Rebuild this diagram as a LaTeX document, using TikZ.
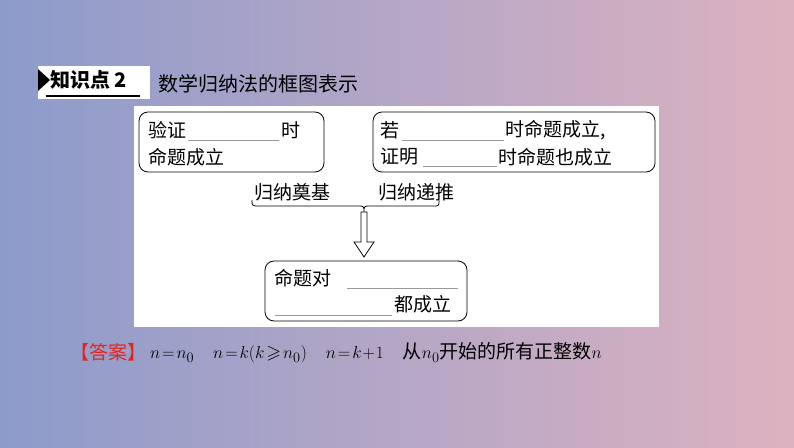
\documentclass[tikz,border=0pt]{standalone}
\usepackage{amssymb}
\usepackage{fontspec}
\setmainfont{Liberation Serif}
\newfontfamily\cjk{Noto Sans CJK SC}
\definecolor{bgl}{HTML}{8C9BCB}
\definecolor{bgr}{HTML}{DDB2C0}
\definecolor{ansred}{HTML}{E8221E}
\begin{document}
\begin{tikzpicture}[x=1pt,y=-1pt,
  rbox/.style={draw,thick,rounded corners=9pt},
  txt/.style={font=\cjk\fontsize{19}{22}\selectfont,inner sep=0pt,anchor=west},
  blank/.style={draw=gray!80,line width=0.6pt}]
\useasboundingbox (0,0) rectangle (794,447);
\shade[left color=bgl,right color=bgr] (0,0) rectangle (794,447);
% header
\fill[white] (38,66) rectangle (150,99);
\fill[black] (38,69) -- (50,80) -- (38,91) -- cycle;
\draw[line width=2.5pt] (46,96) -- (140,96);
\node[txt,font=\cjk\fontsize{20}{22}\selectfont\bfseries] (h) at (50,80) {知识点 2};
\node[txt,font=\cjk\fontsize{20}{22}\selectfont] (t) at (158,84) {数学归纳法的框图表示};
% white panel
\fill[white] (134,106) rectangle (659,327);
% left box
\draw[rbox] (139,112) rectangle (324,172);
\node[txt] (l1) at (148,130) {验证};
\draw[blank] (188,140) -- (279,140);
\node[txt] (l2) at (281,130) {时};
\node[txt] (l3) at (148,157) {命题成立};
% right box
\draw[rbox] (373,112) rectangle (655,172);
\node[txt] (r1) at (380,130) {若};
\draw[blank] (402,140) -- (504,140);
\node[txt] (r2) at (505,130) {时命题成立,};
\node[txt] (r3) at (380,157) {证明};
\draw[blank] (423,166) -- (497,166);
\node[txt] (r4) at (498,157) {时命题也成立};
% labels
\node[txt] (b1) at (254,192) {归纳奠基};
\node[txt] (b2) at (378,192) {归纳递推};
\draw[thick] (252,200) .. controls (252,206) .. (260,206) -- (357,206) .. controls (364,206) .. (364,212)
  .. controls (364,206) .. (371,206) -- (433,206) .. controls (439,206) .. (439,200);
\draw[thick,fill=white] (361,212) -- (367,212) -- (367,242) -- (374,242) -- (364,257) -- (354,242) -- (361,242) -- cycle;
% bottom box
\draw[rbox] (265,261) rectangle (467,321);
\node[txt] (c1) at (274,278) {命题对};
\draw[blank] (347,288) -- (458,288);
\draw[blank] (275,315) -- (392,315);
\node[txt] (c2) at (394,304) {都成立};
% answer
\node[txt,text=ansred] (a0) at (70,352) {【答案】};
\node[anchor=west,inner sep=0pt,font=\fontsize{19}{22}\selectfont] (a1) at (150,353)
  {$n\!=\!n_0\quad n\!=\!k(k\!\geqslant\! n_0)\quad n\!=\!k\!+\!1$\quad{\cjk 从}$n_0${\cjk 开始的所有正整数}$n$};
\end{tikzpicture}
\end{document}
